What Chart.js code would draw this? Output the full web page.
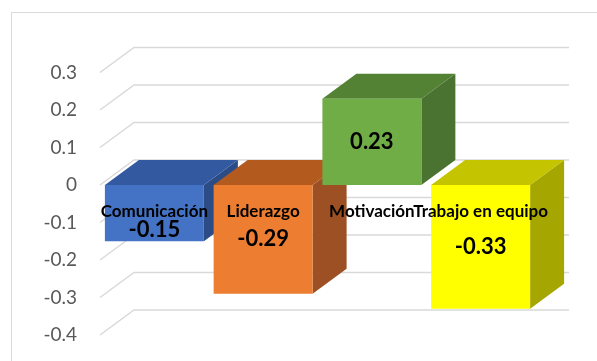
<!DOCTYPE html>
<html>
<head>
<meta charset="utf-8">
<script src="https://cdn.jsdelivr.net/npm/chart.js@4/dist/chart.umd.min.js"></script>
<style>
  html, body { margin: 0; padding: 0; background: #fff; }
  #wrap { width: 597px; height: 361px; }
</style>
</head>
<body>
<div id="wrap"><canvas id="grafico" width="597" height="361"></canvas></div>
<script>
// datos
const categorias = ["Comunicación", "Liderazgo", "Motivación", "Trabajo en equipo"];
const valores = [-0.15, -0.29, 0.23, -0.33];
const etiquetasEje = ["-0.4", "-0.3", "-0.2", "-0.1", "0", "0.1", "0.2", "0.3"]; // de abajo a arriba

// colores frente / arriba / lado
const colFrente = ["#4472C4", "#ED7D31", "#70AD47", "#FFFF00"];
const colArriba = ["#335AA0", "#B35A1F", "#548235", "#C4C400"];
const colLado = ["#2B4C87", "#9C5024", "#4A7230", "#A6A600"];

const DX = 34, DY = -25; // profundidad 3D

const plugin3D = {
  id: "tresD",
  beforeDraw(chart) {
    const c = chart.ctx;
    c.save();
    c.strokeStyle = "#D9D9D9";
    c.lineWidth = 1;
    c.strokeRect(11.5, 12.5, 700, 700);
    c.restore();
  },
  beforeDatasetsDraw(chart) {
    const c = chart.ctx;
    const y = chart.scales.y;
    const area = chart.chartArea;
    c.save();
    // rejilla: pared del fondo + diagonales
    c.strokeStyle = "#D9D9D9";
    c.lineWidth = 1.5;
    y.ticks.forEach((t) => {
      const py = y.getPixelForValue(t.value);
      c.beginPath();
      c.moveTo(area.left, py);
      c.lineTo(area.left + DX, py + DY);
      c.lineTo(area.right + DX, py + DY);
      c.stroke();
    });
    // caras laterales y superiores
    const meta = chart.getDatasetMeta(0);
    meta.data.forEach((bar, i) => {
      const x0 = bar.x - bar.width / 2;
      const x1 = bar.x + bar.width / 2;
      const yTop = Math.min(bar.y, bar.base);
      const yBot = Math.max(bar.y, bar.base);
      // lado
      c.fillStyle = colLado[i];
      c.beginPath();
      c.moveTo(x1, yTop);
      c.lineTo(x1 + DX, yTop + DY);
      c.lineTo(x1 + DX, yBot + DY);
      c.lineTo(x1, yBot);
      c.closePath();
      c.fill();
      // arriba
      c.fillStyle = colArriba[i];
      c.beginPath();
      c.moveTo(x0, yTop);
      c.lineTo(x0 + DX, yTop + DY);
      c.lineTo(x1 + DX, yTop + DY);
      c.lineTo(x1, yTop);
      c.closePath();
      c.fill();
    });
    c.restore();
  },
  afterDatasetsDraw(chart) {
    const c = chart.ctx;
    const y = chart.scales.y;
    const x = chart.scales.x;
    const y0 = y.getPixelForValue(0);
    const yCat = y0 + 27;
    c.save();
    c.fillStyle = "#000";
    c.textAlign = "center";
    c.textBaseline = "middle";
    // etiquetas de categoria
    c.font = "bold 17px Lato";
    categorias.forEach((cat, i) => {
      c.fillText(cat, x.getPixelForValue(i), yCat);
    });
    // etiquetas de datos
    c.font = "bold 22px Lato";
    const meta = chart.getDatasetMeta(0);
    meta.data.forEach((bar, i) => {
      let py = (bar.y + bar.base) / 2;
      if (valores[i] < 0) py = Math.max(py, yCat + 18);
      c.fillText(String(valores[i]), bar.x, py);
    });
    c.restore();
  },
};

const ctx = document.getElementById("grafico").getContext("2d");
new Chart(ctx, {
  type: "bar",
  data: {
    labels: categorias,
    datasets: [
      {
        data: valores,
        backgroundColor: colFrente,
        borderWidth: 0,
        categoryPercentage: 1,
        barPercentage: 0.91,
      },
    ],
  },
  options: {
    responsive: false,
    animation: false,
    layout: { padding: { left: 10, right: 62, top: 72.5, bottom: 26 } },
    plugins: { legend: { display: false }, tooltip: { enabled: false } },
    scales: {
      x: { display: false },
      y: {
        min: -0.4,
        max: 0.3,
        grid: { display: false, drawTicks: false },
        border: { display: false },
        afterFit: (s) => {
          s.width = 90;
          s.paddingTop = 0;
          s.paddingBottom = 0;
        },
        ticks: {
          stepSize: 0.1,
          padding: 23,
          color: "#595959",
          font: { family: "Lato", size: 19 },
          callback: (v, i) => etiquetasEje[i],
        },
      },
    },
  },
  plugins: [plugin3D],
});
</script>
</body>
</html>
